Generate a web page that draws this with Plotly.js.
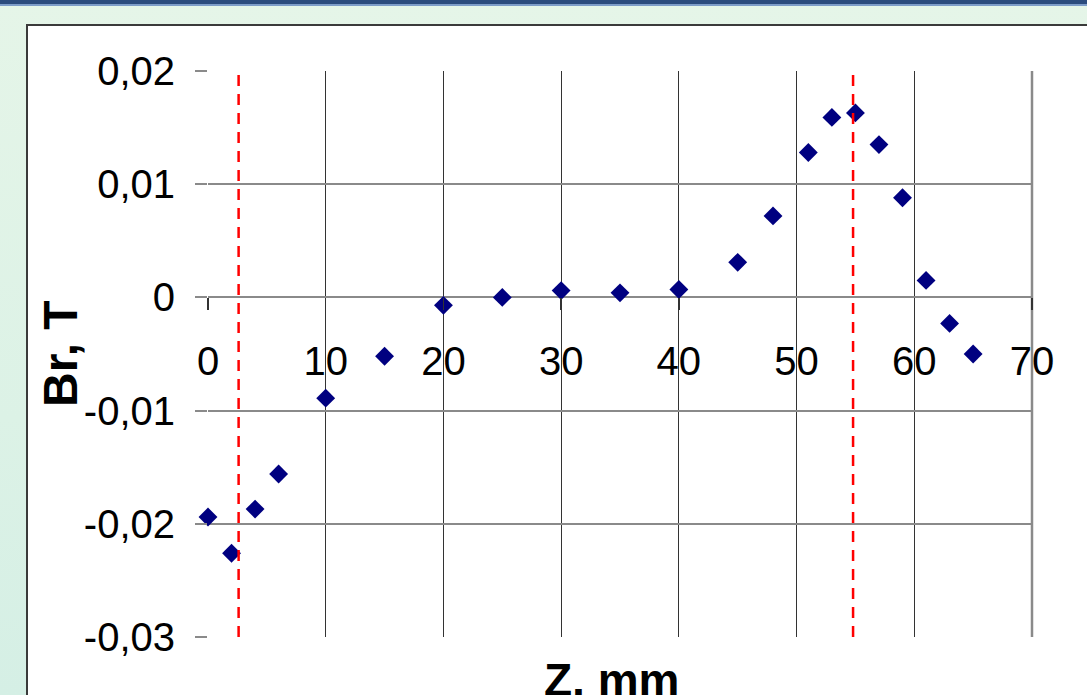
<!DOCTYPE html>
<html>
<head>
<meta charset="utf-8">
<script src="https://cdn.plot.ly/plotly-3.0.1.min.js"></script>
<style>
  html, body { margin: 0; padding: 0; width: 1087px; height: 695px; overflow: hidden; }
  body { background: linear-gradient(to bottom, #e5f5e8 0%, #dcf2e6 60%, #d5efe5 100%); position: relative; }
  #topbar { position: absolute; left: 0; top: 0; width: 1087px; height: 4px; background: #2b4b7d; border-bottom: 2px solid #7d9cc8; }
  #frame { position: absolute; left: 26px; top: 24px; width: 1080px; height: 700px; background: #ffffff; border: 2px solid #3a3a3a; }
  #chart { position: absolute; left: 0; top: 0; width: 1087px; height: 695px; }
</style>
</head>
<body>
<div id="topbar"></div>
<div id="frame"></div>
<div id="chart"></div>
<script>
// Data
const zMm = [0, 2, 4, 6, 10, 15, 20, 25, 30, 35, 40, 45, 48, 51, 53, 55, 57, 59, 61, 63, 65];
const brT = [-0.0194, -0.0226, -0.0187, -0.0156, -0.0089, -0.0052, -0.0007, 0.0000, 0.0006, 0.0004, 0.0007,
             0.0031, 0.0072, 0.0128, 0.0159, 0.0163, 0.0135, 0.0088, 0.0015, -0.0023, -0.0050];
const magnetEdges = [2.6, 54.8];
const xTickVals = [0, 10, 20, 30, 40, 50, 60, 70];
const yTickVals = [-0.03, -0.02, -0.01, 0, 0.01, 0.02];
const yTickText = ['-0,03', '-0,02', '-0,01', '0', '0,01', '0,02'];
const xTitle = 'Z, mm';
const yTitle = 'Br, T';

const xRange = [0, 70];
const yRange = [-0.03, 0.02];
const zeroPos = (0 - yRange[0]) / (yRange[1] - yRange[0]);
const FONT = 'Arial, "Liberation Sans", sans-serif';

const trace = {
  x: zMm, y: brT, type: 'scatter', mode: 'markers', cliponaxis: false,
  marker: { symbol: 'diamond', size: 14.5, color: '#000080' },
  hoverinfo: 'x+y', showlegend: false
};

const shapes = magnetEdges.map(v => ({
  type: 'line', xref: 'x', yref: 'y', x0: v, x1: v, y0: yRange[0], y1: yRange[1],
  line: { color: '#ff0000', width: 2.5, dash: '11px,8px' }, layer: 'above'
}));
shapes.push({ type: 'line', xref: 'paper', yref: 'paper', x0: 1, x1: 1, y0: 0, y1: 1,
  line: { color: '#8a8a8a', width: 2.5 }, layer: 'below' });

const layout = {
  width: 1087, height: 695,
  margin: { l: 208, r: 55, t: 71, b: 58, pad: 0 },
  paper_bgcolor: 'rgba(0,0,0,0)',
  plot_bgcolor: '#ffffff',
  font: { family: FONT, color: '#000000' },
  xaxis: {
    range: xRange, tickvals: xTickVals, anchor: 'free', position: zeroPos,
    showline: false, zeroline: false,
    showgrid: true, gridcolor: '#333333', gridwidth: 1,
    ticks: 'outside', ticklen: 12, tickwidth: 1.5, tickcolor: '#333333',
    ticklabelstandoff: 17,
    tickfont: { size: 40, family: FONT }
  },
  yaxis: {
    range: yRange, tickvals: yTickVals, ticktext: yTickText,
    showline: false,
    zeroline: true, zerolinecolor: '#8a8a8a', zerolinewidth: 2,
    showgrid: true, gridcolor: '#8a8a8a', gridwidth: 2,
    ticks: 'outside', ticklen: 12, tickwidth: 2, tickcolor: '#8a8a8a',
    ticklabelstandoff: 12,
    tickfont: { size: 40, family: FONT }
  },
  annotations: [{
    text: '<b>' + xTitle + '</b>', xref: 'paper', yref: 'paper', x: 0.49, y: 0,
    xanchor: 'center', yanchor: 'top', yshift: -15, showarrow: false,
    font: { size: 46, family: FONT, color: '#000000' }
  }, {
    text: '<b>' + yTitle + '</b>', xref: 'paper', yref: 'paper', x: 0, y: 0.5,
    xanchor: 'center', yanchor: 'middle', xshift: -148, yshift: 0, textangle: -90, showarrow: false,
    font: { size: 48, family: FONT, color: '#000000' }
  }],
  shapes: shapes
};

Plotly.newPlot('chart', [trace], layout, { displayModeBar: false, staticPlot: true });
</script>
</body>
</html>
